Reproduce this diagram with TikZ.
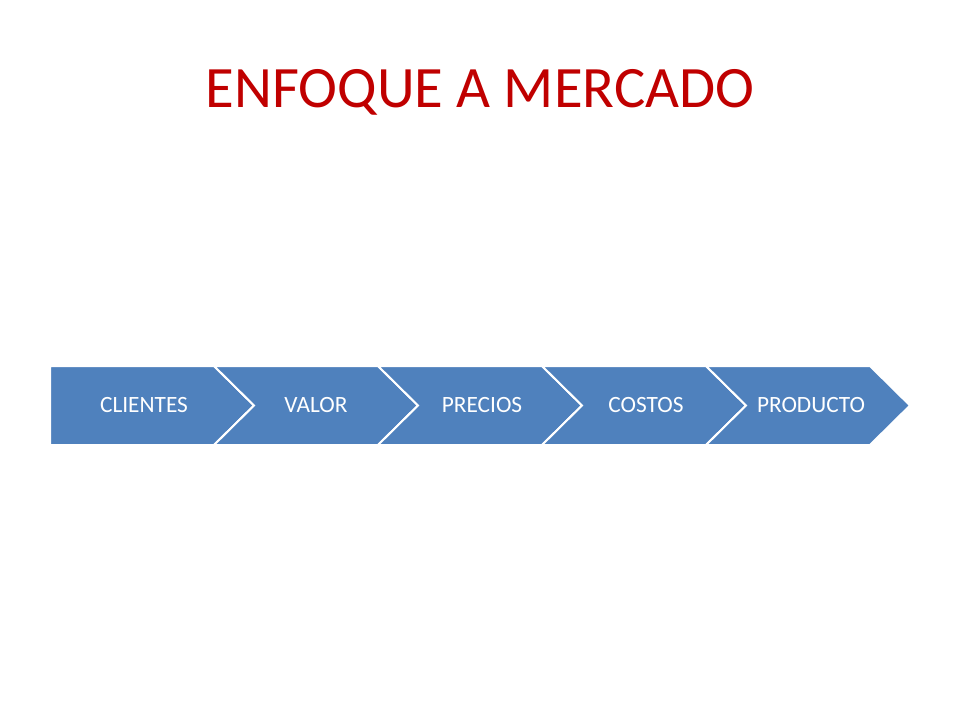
\documentclass[tikz,border=0pt]{standalone}
\usepackage{fontspec}
\setmainfont{Carlito}
\definecolor{chevblue}{HTML}{4F81BD}
\definecolor{titlered}{HTML}{C00000}
\begin{document}
\begin{tikzpicture}[x=0.75pt,y=-0.75pt,
  chev/.style={fill=chevblue,draw=white,line width=1.5pt,line join=miter},
  chevtext/.style={text=white,font=\fontsize{17.5}{20}\selectfont,inner sep=0pt,anchor=base},
  titletext/.style={text=titlered,font=\fontsize{44}{52}\selectfont,inner sep=0pt,anchor=base}]
\useasboundingbox (0,0) rectangle (960,720);
\fill[white] (0,0) rectangle (960,720);
\node[titletext] (title) at (480,108) {ENFOQUE A MERCADO};
% first (pentagon)
\draw[chev] (50,366) -- (214,366) -- (254,405.5) -- (214,445) -- (50,445) -- cycle;
\foreach \x in {214,378,542,706}{
  \draw[chev] (\x,366) -- ({\x+164},366) -- ({\x+204},405.5) -- ({\x+164},445) -- (\x,445) -- ({\x+40},405.5) -- cycle;
}
\node[chevtext] (c1) at (144,412) {CLIENTES};
\node[chevtext] (c2) at (316,412) {VALOR};
\node[chevtext] (c3) at (482,412) {PRECIOS};
\node[chevtext] (c4) at (646,412) {COSTOS};
\node[chevtext] (c5) at (811,412) {PRODUCTO};
\end{tikzpicture}
\end{document}
